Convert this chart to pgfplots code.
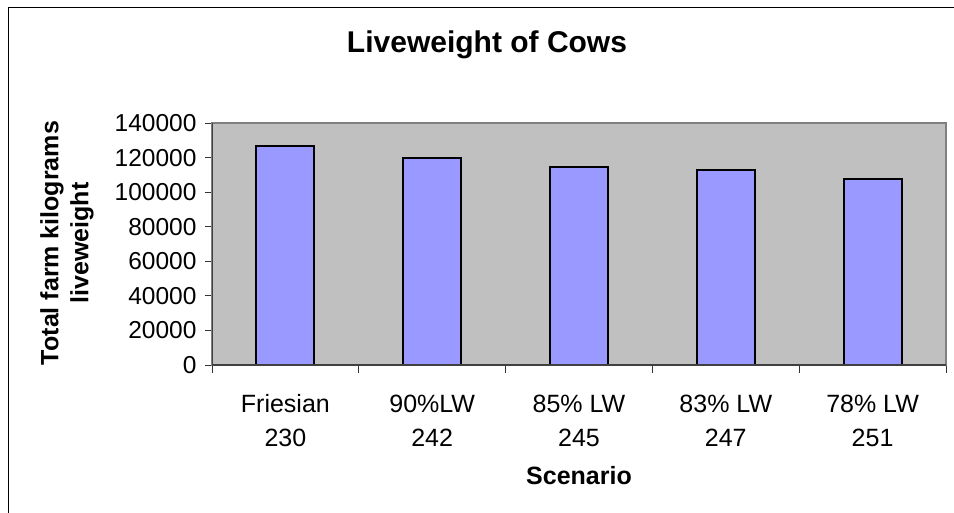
\documentclass[border=0pt]{standalone}
\usepackage{pgfplots}
\pgfplotsset{compat=1.18}
\usepackage{fontspec}
\setmainfont{Liberation Sans}
\definecolor{barfill}{HTML}{9999FF}
\definecolor{plotbg}{HTML}{C0C0C0}
\definecolor{plotborder}{HTML}{808080}
\begin{document}
\begin{tikzpicture}[x=1pt,y=1pt]
\path[use as bounding box] (0,0) rectangle (954,-513);
\draw[black, line width=1pt] (8,-513) -- (8,-8) -- (954,-8);
\begin{axis}[
  at={(212pt,-365pt)}, anchor=south west,
  scale only axis, width=734pt, height=242pt,
  xmin=-0.5, xmax=4.5, ymin=0, ymax=140000,
  axis background/.style={fill=plotbg},
  axis line style={draw=plotborder, line width=1.2pt},
  ytick={0,20000,40000,60000,80000,100000,120000,140000},
  yticklabels={0,20000,40000,60000,80000,100000,120000,140000},
  xtick={0,1,2,3,4},
  xticklabels={{\strut Friesian\\230},{\strut 90\%LW\\242},{\strut 85\% LW\\245},{\strut 83\% LW\\247},{\strut 78\% LW\\251}},
  minor xtick={-0.5,0.5,1.5,2.5,3.5,4.5},
  major x tick style={draw=none},
  minor x tick style={black!80, line width=0.8pt},
  minor tick length=8pt,
  major tick length=7pt,
  y tick style={black!80, line width=0.8pt},
  tick align=outside,
  xtick pos=bottom, ytick pos=left,
  scaled y ticks=false,
  yticklabel style={font=\fontsize{24.5}{28}\selectfont, xshift=-5pt},
  xticklabel style={font=\fontsize{25}{34}\selectfont, align=center, yshift=-13pt},
  ]
\addplot[ybar, bar width=58pt, fill=barfill, draw=black, line width=2pt] coordinates {
  (0,126600) (1,120000) (2,114600) (3,112800) (4,107700)};
\draw[black!75, line width=1.5pt] (rel axis cs:0,0) -- (rel axis cs:1,0);
\draw[black!75, line width=1.5pt] (rel axis cs:0,0) -- (rel axis cs:0,1);
\end{axis}
\node[font=\fontsize{30}{34}\selectfont\bfseries] at (487,-45) {Liveweight of Cows};
\node[font=\fontsize{25}{30}\selectfont\bfseries, rotate=90, align=center] at (67,-243) {Total farm kilograms\\liveweight};
\node[font=\fontsize{25}{28}\selectfont\bfseries] at (579,-476) {Scenario};
\end{tikzpicture}
\end{document}
